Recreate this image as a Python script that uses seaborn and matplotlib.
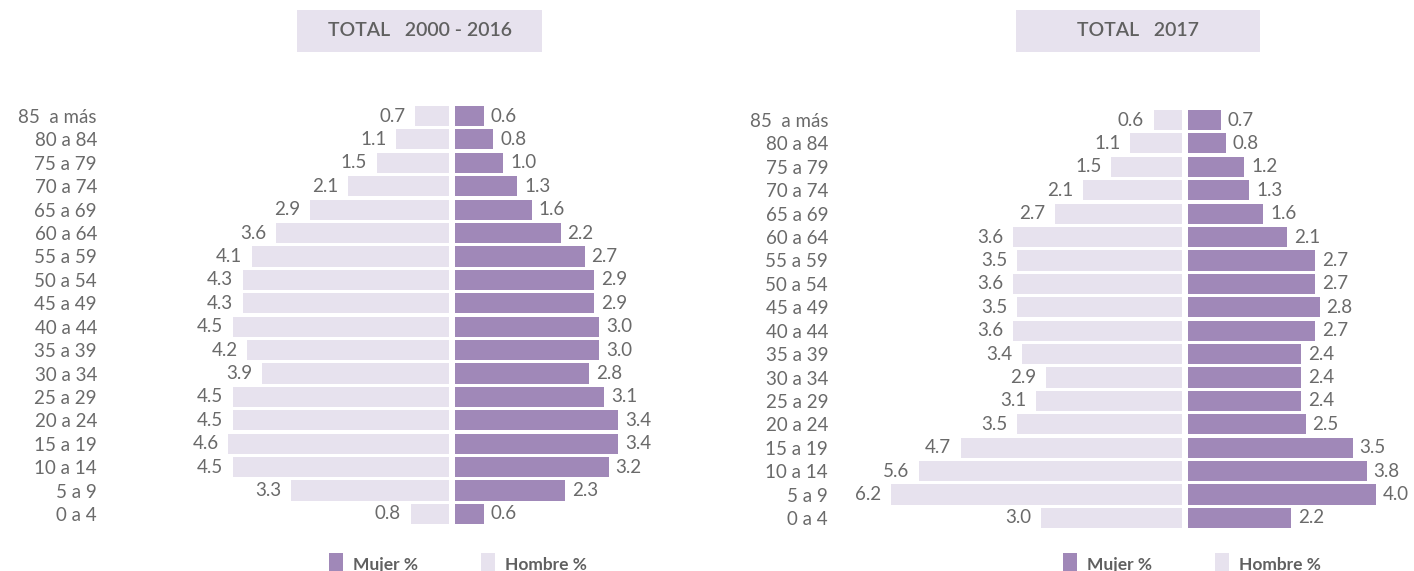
import numpy as np
import matplotlib
matplotlib.use("Agg")
import matplotlib.pyplot as plt
from matplotlib.patches import Patch, Rectangle
import seaborn as sns

# age groups, top to bottom
ages = ["85  a más", "80 a 84", "75 a 79", "70 a 74", "65 a 69", "60 a 64",
        "55 a 59", "50 a 54", "45 a 49", "40 a 44", "35 a 39", "30 a 34",
        "25 a 29", "20 a 24", "15 a 19", "10 a 14", "5 a 9", "0 a 4"]

# TOTAL 2000 - 2016
hombre_0016 = [0.7, 1.1, 1.5, 2.1, 2.9, 3.6, 4.1, 4.3, 4.3, 4.5, 4.2, 3.9,
               4.5, 4.5, 4.6, 4.5, 3.3, 0.8]
mujer_0016 = [0.6, 0.8, 1.0, 1.3, 1.6, 2.2, 2.7, 2.9, 2.9, 3.0, 3.0, 2.8,
              3.1, 3.4, 3.4, 3.2, 2.3, 0.6]

# TOTAL 2017
hombre_2017 = [0.6, 1.1, 1.5, 2.1, 2.7, 3.6, 3.5, 3.6, 3.5, 3.6, 3.4, 2.9,
               3.1, 3.5, 4.7, 5.6, 6.2, 3.0]
mujer_2017 = [0.7, 0.8, 1.2, 1.3, 1.6, 2.1, 2.7, 2.7, 2.8, 2.7, 2.4, 2.4,
              2.4, 2.5, 3.5, 3.8, 4.0, 2.2]

titles = ["TOTAL   2000 - 2016", "TOTAL   2017"]
legend_labels = ["Mujer %", "Hombre %"]

MUJER = "#a088b8"
HOMBRE = "#e7e2ee"
TXT = "#6a6a6a"

sns.set_theme(style="white")
plt.rcParams["font.family"] = ["Lato", "DejaVu Sans"]

W, H = 1414, 571
fig = plt.figure(figsize=(W / 100, H / 100), dpi=100)


def px_axes(left, top, width, height):
    return fig.add_axes([left / W, 1 - (top + height) / H, width / W, height / H])


def panel(hombre, mujer, center_l, center_r, scale, hmax, mmax, top, lab_right, title, box, leg_x):
    n = len(ages)
    pitch = 23.41
    height = n * pitch
    ax_h = px_axes(center_l - hmax * scale, top, hmax * scale, height)
    ax_m = px_axes(center_r, top, mmax * scale, height)

    sns.barplot(x=hombre, y=ages, orient="h", color=HOMBRE, saturation=1,
                width=0.86, linewidth=0, ax=ax_h)
    sns.barplot(x=mujer, y=ages, orient="h", color=MUJER, saturation=1,
                width=0.86, linewidth=0, ax=ax_m)

    ax_h.set_xlim(hmax, 0)
    ax_m.set_xlim(0, mmax)
    for ax in (ax_h, ax_m):
        ax.set_ylim(n - 0.5, -0.5)
        ax.set_xlabel("")
        ax.set_ylabel("")
        ax.set_xticks([])
        sns.despine(ax=ax, left=True, bottom=True)
        ax.patch.set_alpha(0)

    ax_m.set_yticks([])
    pad = (center_l - hmax * scale - lab_right) * 0.72
    ax_h.tick_params(axis="y", length=0, pad=pad, labelsize=13.5, labelcolor=TXT)

    ax_h.bar_label(ax_h.containers[0], fmt="%.1f", padding=7, fontsize=13.5, color=TXT)
    ax_m.bar_label(ax_m.containers[0], fmt="%.1f", padding=5, fontsize=13.5, color=TXT)

    # title box
    bx, by, bw, bh = box
    fig.patches.append(Rectangle((bx / W, 1 - (by + bh) / H), bw / W, bh / H,
                                 transform=fig.transFigure, facecolor=HOMBRE,
                                 edgecolor="none", zorder=0))
    fig.text((bx + bw / 2) / W, 1 - (by + bh / 2) / H, title, ha="center",
             va="center", fontsize=14, fontweight="semibold", color="#606060")

    # legend
    handles = [Patch(facecolor=MUJER, edgecolor="none"),
               Patch(facecolor=HOMBRE, edgecolor="none")]
    fig.legend(handles, legend_labels, loc="center", ncol=2,
               bbox_to_anchor=(leg_x / W, 1 - 564 / H), frameon=False,
               handlelength=0.8, handleheight=1.6, handletextpad=0.6,
               columnspacing=3.6, prop={"size": 12.5, "weight": "bold"},
               labelcolor="#606060")


panel(hombre_0016, mujer_0016, 449, 455, 48, 5.5, 5.5, 104.3, 97,
      titles[0], (297, 10, 245, 42), 458)
panel(hombre_2017, mujer_2017, 1182, 1188, 47, 6.6, 4.8, 108.3, 828,
      titles[1], (1016, 10, 244, 42), 1192)

fig.savefig("out.png", dpi=100, facecolor="white")
